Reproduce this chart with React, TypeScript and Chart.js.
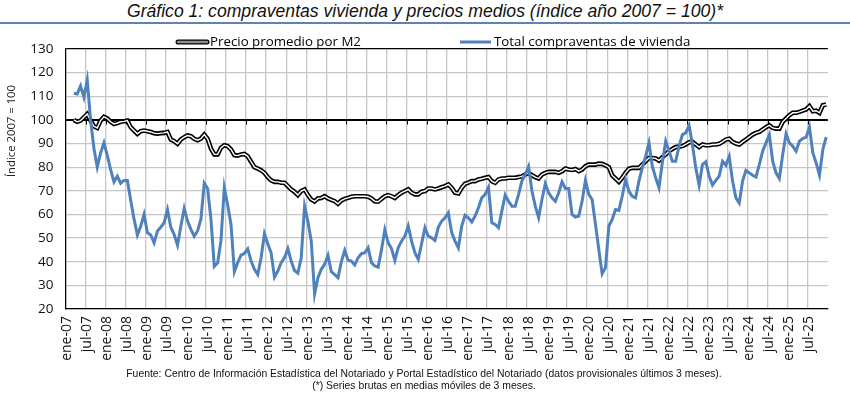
import React, { useEffect, useRef } from "react";
import { Chart, registerables } from "chart.js";

Chart.register(...registerables);

const MONTHS = ["ene", "feb", "mar", "abr", "may", "jun", "jul", "ago", "sep", "oct", "nov", "dic"];
const YEARS = ["07", "08", "09", "10", "11", "12", "13", "14", "15", "16", "17", "18", "19", "20", "21", "22", "23", "24", "25"];
const categories: string[] = [];
YEARS.forEach((y) => MONTHS.forEach((m) => categories.push(`${m}-${y}`)));

const TITLE = "Gráfico 1: compraventas vivienda y precios medios (índice año 2007 = 100)*";
const Y_TITLE = "Índice 2007 = 100";
const SERIES_PRICE = "Precio promedio por M2";
const SERIES_SALES = "Total compraventas de vivienda";
const SOURCE = "Fuente: Centro de Información Estadística del Notariado y Portal Estadístico del Notariado (datos provisionales últimos 3 meses).";
const NOTE = "(*) Series brutas en medias móviles de 3 meses.";

const Y_MIN = 20;
const Y_MAX = 130;
const Y_STEP = 10;

// Precio promedio por M2 (ene-07 .. dic-25), índice 2007 = 100
const precio: (number | null)[] = [
  null, null, 100, 99.2, 99.7, 101.1, 102.5, 99.7, 97.3, 96.6, 99.7, 101.3,
  100.6, 99.2, 98.3, 98.7, 99.2, 99.4, 99.7, 96.9, 95.5, 94.1, 95.2, 95.5,
  95.2, 94.9, 94.4, 94.2, 94.4, 94.5, 94.9, 91.7, 91.0, 89.9, 91.7, 92.7,
  93.4, 93.1, 92.0, 91.4, 92.1, 93.8, 92.0, 87.9, 85.4, 85.4, 88.2, 89.3,
  88.9, 87.5, 85.1, 84.9, 85.4, 85.6, 84.6, 82.3, 80.0, 79.4, 78.7, 77.6,
  75.8, 74.4, 73.8, 73.8, 73.4, 73.4, 72.0, 70.6, 69.6, 68.2, 69.9, 70.6,
  68.2, 66.3, 65.5, 66.8, 67.0, 67.7, 66.8, 66.2, 65.6, 64.5, 65.9, 66.6,
  67.0, 67.5, 67.7, 67.7, 67.7, 67.7, 67.5, 66.8, 65.6, 65.4, 66.6, 67.7,
  68.2, 67.7, 67.0, 68.2, 69.2, 69.9, 70.6, 69.2, 68.5, 68.5, 69.6, 69.9,
  71.0, 71.0, 70.6, 71.0, 71.5, 72.0, 72.7, 71.3, 69.2, 68.9, 71.3, 73.0,
  73.5, 74.1, 74.1, 74.8, 75.1, 75.5, 75.8, 74.1, 73.4, 74.8, 75.2, 75.2,
  75.5, 75.5, 75.5, 75.8, 76.1, 76.9, 77.6, 76.6, 75.8, 75.2, 76.9, 77.6,
  78.0, 78.0, 78.0, 77.6, 78.3, 79.4, 79.0, 78.8, 79.2, 78.3, 79.0, 80.4,
  81.1, 81.1, 81.1, 81.5, 81.4, 80.8, 80.0, 76.5, 75.2, 73.8, 75.5, 77.6,
  79.3, 79.7, 79.7, 79.7, 81.1, 82.5, 83.9, 83.9, 83.7, 82.8, 84.2, 85.4,
  86.8, 87.7, 88.5, 88.7, 88.9, 89.6, 90.6, 90.7, 89.6, 88.5, 89.6, 89.3,
  89.3, 89.6, 89.6, 89.9, 90.7, 91.7, 92.0, 90.7, 90.0, 89.6, 90.7, 91.7,
  92.7, 93.8, 94.5, 94.9, 95.9, 96.9, 97.7, 96.6, 96.3, 96.3, 99.2, 100.6,
  102.0, 103.0, 103.0, 103.4, 103.9, 104.4, 105.8, 103.7, 103.9, 103.0, 106.2, 106.5,
];

// Total compraventas de vivienda (ene-07 .. dic-25), índice 2007 = 100
const compraventas: (number | null)[] = [
  null, null, 111.3, 111.0, 114.4, 109.6, 116.9, 100.0, 88.0, 80.0, 86.0, 90.3,
  85.0, 79.0, 73.8, 76.2, 73.2, 74.4, 74.4, 66.0, 58.0, 51.3, 55.0, 60.0,
  52.3, 51.3, 48.0, 53.0, 54.6, 56.5, 62.0, 54.6, 51.5, 47.0, 55.0, 62.5,
  57.2, 53.7, 50.8, 53.0, 58.0, 73.2, 71.0, 58.0, 38.0, 39.5, 49.0, 71.3,
  64.0, 55.8, 35.8, 39.6, 42.8, 43.5, 45.4, 40.3, 36.8, 34.6, 41.7, 51.8,
  47.6, 43.8, 33.5, 36.0, 39.6, 41.7, 45.5, 40.3, 36.3, 35.2, 41.7, 63.5,
  57.0, 48.7, 26.3, 33.2, 36.8, 38.9, 42.7, 35.8, 34.6, 33.2, 40.0, 44.8,
  40.6, 40.3, 38.6, 41.7, 43.4, 43.8, 45.9, 39.6, 38.2, 37.7, 45.0, 53.5,
  48.0, 45.6, 40.6, 45.9, 48.7, 50.8, 55.1, 48.7, 43.8, 41.0, 47.6, 54.4,
  50.8, 50.1, 49.0, 54.6, 57.2, 58.6, 60.7, 52.3, 48.7, 45.9, 55.1, 59.7,
  58.6, 56.8, 59.3, 62.8, 67.0, 68.5, 71.5, 56.5, 55.8, 54.4, 61.4, 68.2,
  65.6, 63.5, 63.5, 68.5, 74.1, 76.9, 80.3, 69.9, 63.5, 58.6, 66.3, 73.0,
  69.2, 67.0, 65.6, 69.2, 73.8, 71.0, 71.0, 60.0, 58.9, 59.3, 65.6, 74.4,
  68.5, 66.3, 55.8, 45.2, 34.9, 37.5, 55.1, 57.9, 62.1, 61.7, 67.7, 74.8,
  69.9, 67.7, 67.0, 74.1, 79.7, 84.6, 90.3, 80.4, 75.5, 71.3, 82.0, 91.0,
  86.8, 82.5, 82.5, 88.9, 93.8, 94.5, 97.7, 89.6, 79.7, 72.4, 81.1, 82.3,
  76.2, 72.4, 74.4, 76.2, 82.5, 80.8, 84.6, 74.1, 67.0, 64.8, 74.1, 78.6,
  77.6, 76.6, 75.8, 81.1, 86.8, 90.3, 93.8, 82.5, 77.6, 75.2, 85.4, 94.1,
  90.3, 88.9, 86.8, 91.0, 92.1, 92.7, 96.9, 86.1, 81.8, 76.6, 87.5, 92.7,
];

const BLUE = "#4f81bd";
const GRID = "#c6c6c6";
const FONT = "'Open Sans', 'Noto Sans', sans-serif";

const axisAt100Plugin = {
  id: "axisAt100",
  beforeDatasetsDraw(chart: any) {
    const { ctx, chartArea, scales } = chart;
    const x = scales.x;
    const y = scales.y;
    const py = Math.round(y.getPixelForValue(100)) + 0.5;
    ctx.save();
    ctx.strokeStyle = "#000";
    ctx.lineWidth = 1;
    ctx.beginPath();
    ctx.moveTo(chartArea.left, py);
    ctx.lineTo(chartArea.right, py);
    for (let i = 6; i < categories.length; i += 6) {
      const px = Math.round((x.getPixelForValue(i - 1) + x.getPixelForValue(i)) / 2) + 0.5;
      ctx.moveTo(px, py);
      ctx.lineTo(px, py + 4);
    }
    ctx.stroke();
    ctx.restore();
  },
};

const legendAndTitlePlugin = {
  id: "legendAndTitle",
  afterDraw(chart: any) {
    const { ctx } = chart;
    ctx.save();
    // legend
    const ly = 42;
    ctx.lineCap = "round";
    ctx.strokeStyle = "#000";
    ctx.lineWidth = 5;
    ctx.beginPath();
    ctx.moveTo(178, ly);
    ctx.lineTo(207, ly);
    ctx.stroke();
    ctx.strokeStyle = "#8c8c8c";
    ctx.lineWidth = 2.5;
    ctx.beginPath();
    ctx.moveTo(178, ly);
    ctx.lineTo(207, ly);
    ctx.stroke();
    ctx.strokeStyle = BLUE;
    ctx.lineWidth = 3;
    ctx.lineCap = "butt";
    ctx.beginPath();
    ctx.moveTo(460, ly);
    ctx.lineTo(491, ly);
    ctx.stroke();
    ctx.fillStyle = "#000";
    ctx.font = `13.3px ${FONT}`;
    ctx.textBaseline = "middle";
    ctx.textAlign = "left";
    ctx.fillText(SERIES_PRICE, 210, ly);
    ctx.fillText(SERIES_SALES, 494, ly);
    // y axis title
    ctx.translate(12, 131);
    ctx.rotate(-Math.PI / 2);
    ctx.textAlign = "center";
    ctx.font = `11.3px ${FONT}`;
    ctx.fillStyle = "#222";
    ctx.fillText(Y_TITLE, 0, 0);
    ctx.restore();
  },
};

export default function App() {
  const canvasRef = useRef<HTMLCanvasElement | null>(null);

  useEffect(() => {
    if (!canvasRef.current) return;
    const n = categories.length;
    const chart = new Chart(canvasRef.current, {
      type: "line",
      data: {
        labels: categories,
        datasets: [
          {
            label: SERIES_SALES,
            data: compraventas,
            borderColor: BLUE,
            borderWidth: 3,
            pointRadius: 0,
            tension: 0,
            fill: false,
          },
          {
            label: SERIES_PRICE + " (interior)",
            data: precio,
            borderColor: "#ffffff",
            borderWidth: 1.4,
            pointRadius: 0,
            tension: 0,
            fill: false,
          },
          {
            label: SERIES_PRICE,
            data: precio,
            borderColor: "#000000",
            borderWidth: 4.6,
            pointRadius: 0,
            tension: 0,
            fill: false,
          },
        ],
      },
      options: {
        responsive: false,
        animation: false,
        devicePixelRatio: 1,
        layout: { padding: { top: 49, right: 11.5, bottom: 0, left: 0 } },
        plugins: {
          legend: { display: false },
          tooltip: { enabled: false },
          title: { display: false },
        },
        scales: {
          x: {
            type: "category",
            offset: true,
            grid: {
              offset: true,
              drawTicks: false,
              lineWidth: 1.3,
              color: (c: any) =>
                c.index === n ? "#000" : c.index % 6 === 0 ? GRID : "rgba(0,0,0,0)",
            },
            border: { color: "#000", width: 1.2 },
            ticks: {
              autoSkip: false,
              maxRotation: 90,
              minRotation: 90,
              padding: 7,
              color: "#111",
              font: { family: FONT, size: 14 },
              callback: (_v: any, i: number) => (i % 6 === 0 ? categories[i] : ""),
            },
            afterFit: (s: any) => {
              s.height = 84;
            },
          },
          y: {
            min: Y_MIN,
            max: Y_MAX,
            ticks: {
              stepSize: Y_STEP,
              padding: 12,
              color: "#111",
              font: { family: FONT, size: 13.5 },
            },
            grid: {
              drawTicks: false,
              lineWidth: 1.3,
              color: (c: any) =>
                c.tick && (c.tick.value === 130 || c.tick.value === 100) ? "#000" : GRID,
            },
            border: { color: "#000", width: 1.2 },
            afterFit: (s: any) => {
              s.width = 65.5;
            },
          },
        },
      },
      plugins: [axisAt100Plugin, legendAndTitlePlugin],
    });
    return () => chart.destroy();
  }, []);

  return (
    <div
      style={{
        position: "absolute",
        left: 0,
        top: 0,
        width: 850,
        height: 393,
        background: "#fff",
        overflow: "hidden",
      }}
    >
      <div
        style={{
          position: "absolute",
          top: 1,
          left: 0,
          width: 850,
          textAlign: "center",
          fontFamily: "'Liberation Sans Narrow', 'Liberation Sans', Arial, sans-serif",
          fontStyle: "italic",
          fontSize: 17.6,
          lineHeight: "20px",
          color: "#111",
        }}
      >
        {TITLE}
      </div>
      <div
        style={{
          position: "absolute",
          top: 22,
          left: 0,
          width: 850,
          height: 2,
          background: "#5b84b4",
        }}
      />
      <canvas
        ref={canvasRef}
        width={850}
        height={393}
        style={{ position: "absolute", left: 0, top: 0, display: "block" }}
      />
      <div
        style={{
          position: "absolute",
          top: 368,
          left: 0,
          width: 848,
          textAlign: "center",
          fontFamily: "'Liberation Sans', Arial, sans-serif",
          fontSize: 10.4,
          lineHeight: "12px",
          color: "#111",
        }}
      >
        <div>{SOURCE}</div>
        <div>{NOTE}</div>
      </div>
    </div>
  );
}
